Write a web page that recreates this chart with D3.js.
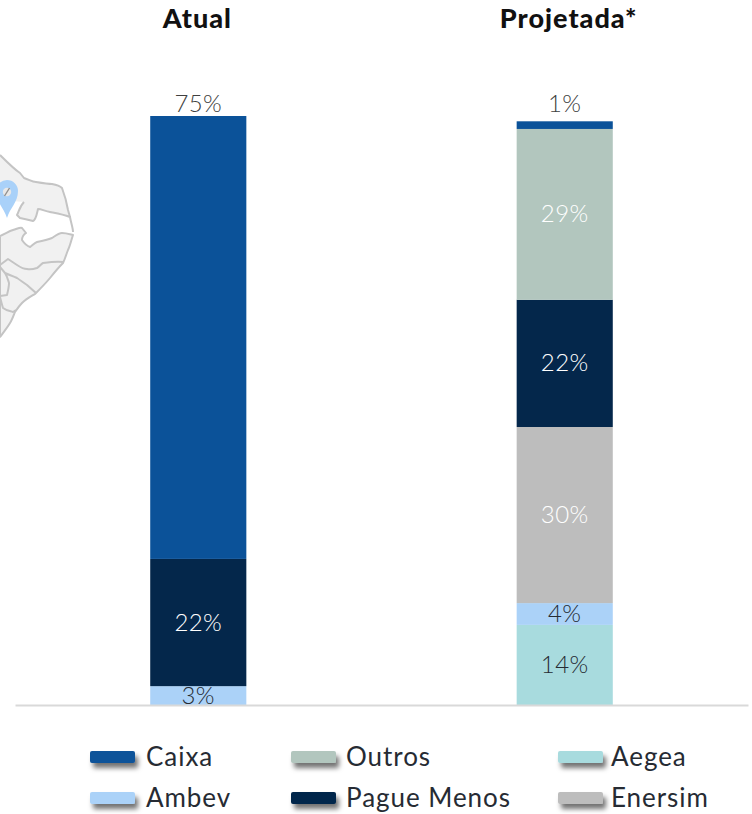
<!DOCTYPE html>
<html>
<head>
<meta charset="utf-8">
<script src="https://cdn.jsdelivr.net/npm/d3@7"></script>
<style>
  html, body { margin: 0; padding: 0; background: #fff; }
  text { font-family: Lato, "Open Sans", sans-serif; }
</style>
</head>
<body>
<div id="chart"></div>
<script>
const WIDTH = 752;
const HEIGHT = 814;

const periods = ["Atual", "Projetada*"];
// stacking order, bottom to top
const keys = ["Aegea", "Ambev", "Enersim", "Pague Menos", "Outros", "Caixa"];

const aegea = [0, 13.6];
const ambev = [3.2, 3.7];
const enersim = [0, 29.9];
const pagueMenos = [21.6, 21.6];
const outros = [0, 29];
const caixa = [75.2, 1.3];

// printed labels, they are rounded differently from the bar heights
const aegeaLabels = ["", "14%"];
const ambevLabels = ["3%", "4%"];
const enersimLabels = ["", "30%"];
const pagueMenosLabels = ["22%", "22%"];
const outrosLabels = ["", "29%"];
const caixaLabels = ["75%", "1%"];

const legendRows = [
  ["Caixa", "Outros", "Aegea"],
  ["Ambev", "Pague Menos", "Enersim"]
];

const colors = {
  "Caixa": "#0b5299",
  "Pague Menos": "#04274b",
  "Ambev": "#abd2f8",
  "Outros": "#b2c6be",
  "Enersim": "#bdbdbd",
  "Aegea": "#a8dbde"
};
const labelColors = {
  "Pague Menos": "#ffffff",
  "Outros": "#ffffff",
  "Enersim": "#ffffff",
  "Ambev": "#262b33",
  "Aegea": "#262b33",
  "Caixa": "#404040"
};

const values = { "Aegea": aegea, "Ambev": ambev, "Enersim": enersim, "Pague Menos": pagueMenos, "Outros": outros, "Caixa": caixa };
const labels = { "Aegea": aegeaLabels, "Ambev": ambevLabels, "Enersim": enersimLabels, "Pague Menos": pagueMenosLabels, "Outros": outrosLabels, "Caixa": caixaLabels };

const rows = periods.map(function(p, i) {
  const row = { period: p };
  keys.forEach(function(k) { row[k] = values[k][i]; });
  return row;
});

const svg = d3.select("#chart").append("svg")
  .attr("width", WIDTH)
  .attr("height", HEIGHT)
  .style("display", "block");

const shadow = svg.append("defs").append("filter")
  .attr("id", "shadow")
  .attr("x", "-20%").attr("y", "-80%")
  .attr("width", "140%").attr("height", "300%");
shadow.append("feDropShadow")
  .attr("dx", 3).attr("dy", 5)
  .attr("stdDeviation", 2.6)
  .attr("flood-color", "#000")
  .attr("flood-opacity", 0.55);

const x = d3.scaleBand()
  .domain(periods)
  .range([15, 748])
  .paddingInner(0.7377)
  .paddingOuter(0.369);

const y = d3.scaleLinear()
  .domain([0, 100])
  .range([705, 116]);

// the map behind the first bar
const map = svg.append("g")
  .attr("fill", "#f1f1f1")
  .attr("stroke", "#c4c4c4")
  .attr("stroke-width", 2)
  .attr("stroke-linejoin", "round");

const northLine = "M0,155 C8,163 14,169 20,173 L24,178 C30,180 32,182 36,182 C42,183 48,184 52,184 C58,185 61,187 62,188 C65,196 67,204 68,210 L70,217 C62,214 55,213 50,212 C45,211 41,209 38,209 C37,213 36,220 33,221 C29,220 25,219 20,218 L17,215 C19,211 20,206 24,202";
map.append("path").attr("stroke", "none").attr("d", northLine + " L0,200 Z");
map.append("path").attr("fill", "none").attr("d", northLine + " M70,217 C71,223 73,228 73,232");

map.append("path")
  .attr("d", "M0,236 C5,234 9,231 13,230 C17,229 20,227 22,228 L26,233 C23,235 22,237 22,240 C24,243 27,246 30,247 C32,246 34,243 37,242 C42,241 47,240 52,238 C55,236 59,233 62,233 C66,233 69,234 73,235 C71,241 70,246 68,250 C66,255 65,259 63,263 C58,268 54,273 50,278 C45,284 40,289 35,294 C30,297 26,299 22,303 C19,306 17,309 15,312 C13,317 12,320 10,323 C7,328 3,333 0,337 Z");
map.append("path")
  .attr("fill", "none")
  .attr("d", "M0,265 L8,259 C11,261 14,263 17,265 C20,267 24,269 27,269 C31,270 34,269 37,268 C39,267 41,264 43,263 C50,262 57,261 63,262 M0,267 L5,273 C9,275 13,276 17,278 C20,280 24,283 27,285 L36,293 M5,273 C7,276 8,280 9,283 C9,287 8,291 7,295 L0,296 M0,297 C1,301 2,305 3,308 C7,311 10,311 13,312 L16,310");

const pin = svg.append("g");
pin.append("path")
  .attr("fill", "#a9d1f9")
  .attr("d", "M7,218 C4,208 -4,202 -4,191 A11,11 0 0 1 18,191 C18,202 10,208 7,218 Z");
pin.append("circle")
  .attr("cx", 7).attr("cy", 192).attr("r", 4.2)
  .attr("fill", "#e8e8e8");
pin.append("path")
  .attr("stroke", "#8f8f8f")
  .attr("stroke-width", 1.4)
  .attr("d", "M4.5,196 L9.5,188");

// bars
const series = d3.stack().keys(keys)(rows);

const groups = svg.selectAll(".series")
  .data(series)
  .enter().append("g")
  .attr("class", "series")
  .attr("fill", function(d) { return colors[d.key]; });

groups.selectAll("rect")
  .data(function(d) { return d.filter(function(s) { return s[1] > s[0]; }); })
  .enter().append("rect")
  .attr("x", function(d) { return x(d.data.period); })
  .attr("y", function(d) { return y(d[1]); })
  .attr("width", x.bandwidth())
  .attr("height", function(d) { return y(d[0]) - y(d[1]); });

// value labels, Caixa is written above the stack on both bars
series.forEach(function(s) {
  s.forEach(function(d, i) {
    const txt = labels[s.key][i];
    if (!txt) return;
    const isTop = s.key === "Caixa";
    svg.append("text")
      .attr("x", x(d.data.period) + x.bandwidth() / 2)
      .attr("y", isTop ? y(100) - 4 : (y(d[0]) + y(d[1])) / 2 + 8)
      .attr("text-anchor", "middle")
      .attr("font-size", 24)
      .attr("font-weight", 300)
      .attr("letter-spacing", 0.4)
      .attr("fill", labelColors[s.key])
      .text(txt);
  });
});

// baseline
const axis = svg.append("g")
  .attr("transform", "translate(0,705)")
  .call(d3.axisBottom(x).tickSize(0).tickFormat(""));
axis.select(".domain").attr("stroke", "#d9d9d9").attr("stroke-width", 2);

// titles
svg.selectAll(".title")
  .data(periods)
  .enter().append("text")
  .attr("class", "title")
  .attr("x", function(d) { return x(d) + x.bandwidth() / 2 + (d === "Atual" ? -1 : 4); })
  .attr("y", 28)
  .attr("text-anchor", "middle")
  .attr("font-size", 27)
  .attr("font-weight", 900)
  .attr("letter-spacing", 1)
  .attr("fill", "#111")
  .text(function(d) { return d; });

// legend
const legendSwatchX = d3.scaleOrdinal().domain([0, 1, 2]).range([90, 291, 558]);
const legendTextX = d3.scaleOrdinal().domain([0, 1, 2]).range([146, 346, 611]);
const legendY = d3.scaleOrdinal().domain([0, 1]).range([757, 798]);

legendRows.forEach(function(row, r) {
  row.forEach(function(name, c) {
    svg.append("rect")
      .attr("x", legendSwatchX(c))
      .attr("y", legendY(r) - 6)
      .attr("width", 45)
      .attr("height", 12)
      .attr("rx", 2)
      .attr("fill", colors[name])
      .attr("filter", "url(#shadow)");
    svg.append("text")
      .attr("x", legendTextX(c))
      .attr("y", legendY(r) + 9)
      .attr("font-size", 26)
      .attr("font-weight", 400)
      .attr("letter-spacing", 0.95)
      .attr("fill", "#262b33")
      .text(name);
  });
});
</script>
</body>
</html>
